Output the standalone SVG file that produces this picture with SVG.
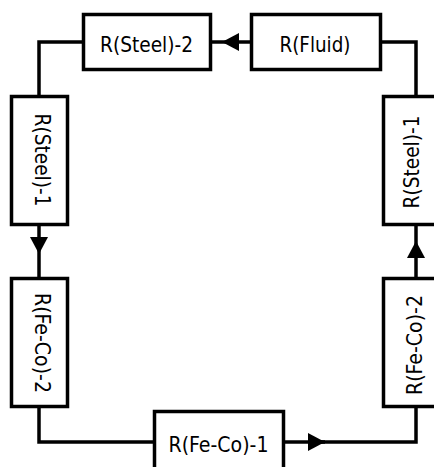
<svg xmlns="http://www.w3.org/2000/svg" width="434" height="467" viewBox="0 0 434 467">
  <style>
    .box { fill: #ffffff; stroke: #000000; stroke-width: 3.5; }
    .wire { fill: none; stroke: #000000; stroke-width: 3.5; stroke-linejoin: miter; }
    .lbl { font-family: "DejaVu Sans Condensed", "DejaVu Sans", sans-serif; font-size: 20.5px; fill: #000000; text-anchor: middle; }
  </style>
  <defs>
    <marker id="tri" viewBox="0 0 17 18" refX="17" refY="9" markerWidth="17" markerHeight="18" markerUnits="userSpaceOnUse" orient="auto">
      <path d="M0,0 L17,9 L0,18 Z" fill="#000000"/>
    </marker>
  </defs>

  <g id="connectors">
    <path class="wire" d="M250,42 L222,42 L211,42" marker-mid="url(#tri)"/>
    <path class="wire" d="M83,42 L39,42 L39,96"/>
    <path class="wire" d="M39,225 L39,254 L39,278" marker-mid="url(#tri)"/>
    <path class="wire" d="M39,407 L39,442 L154,442"/>
    <path class="wire" d="M284,442 L325,442" marker-end="url(#tri)"/>
    <path class="wire" d="M320,442 L416,442 L416,407"/>
    <path class="wire" d="M416,278 L416,241 L416,225" marker-mid="url(#tri)"/>
    <path class="wire" d="M416,96 L416,42 L381,42"/>
  </g>

  <g id="steel2">
    <rect class="box" x="83.5" y="14.5" width="127" height="55"/>
    <text class="lbl" x="146.5" y="52" textLength="93" lengthAdjust="spacingAndGlyphs">R(Steel)-2</text>
  </g>
  <g id="fluid">
    <rect class="box" x="251.5" y="14.5" width="129" height="55"/>
    <text class="lbl" x="315" y="52" textLength="71" lengthAdjust="spacingAndGlyphs">R(Fluid)</text>
  </g>
  <g id="steel1-left">
    <rect class="box" x="11.5" y="96.5" width="56" height="128"/>
    <text class="lbl" transform="translate(35,160) rotate(90)" textLength="93" lengthAdjust="spacingAndGlyphs">R(Steel)-1</text>
  </g>
  <g id="feco2-left">
    <rect class="box" x="11.5" y="278.5" width="56" height="128"/>
    <text class="lbl" transform="translate(35,343) rotate(90)" textLength="100" lengthAdjust="spacingAndGlyphs">R(Fe-Co)-2</text>
  </g>
  <g id="feco1">
    <rect class="box" x="154.5" y="411.5" width="129" height="62"/>
    <text class="lbl" x="218.5" y="451.5" textLength="100" lengthAdjust="spacingAndGlyphs">R(Fe-Co)-1</text>
  </g>
  <g id="feco2-right">
    <rect class="box" x="383.5" y="278.5" width="60" height="128"/>
    <text class="lbl" transform="translate(422,345) rotate(-90)" textLength="100" lengthAdjust="spacingAndGlyphs">R(Fe-Co)-2</text>
  </g>
  <g id="steel1-right">
    <rect class="box" x="383.5" y="96.5" width="60" height="128"/>
    <text class="lbl" transform="translate(419,162) rotate(-90)" textLength="93" lengthAdjust="spacingAndGlyphs">R(Steel)-1</text>
  </g>
</svg>
